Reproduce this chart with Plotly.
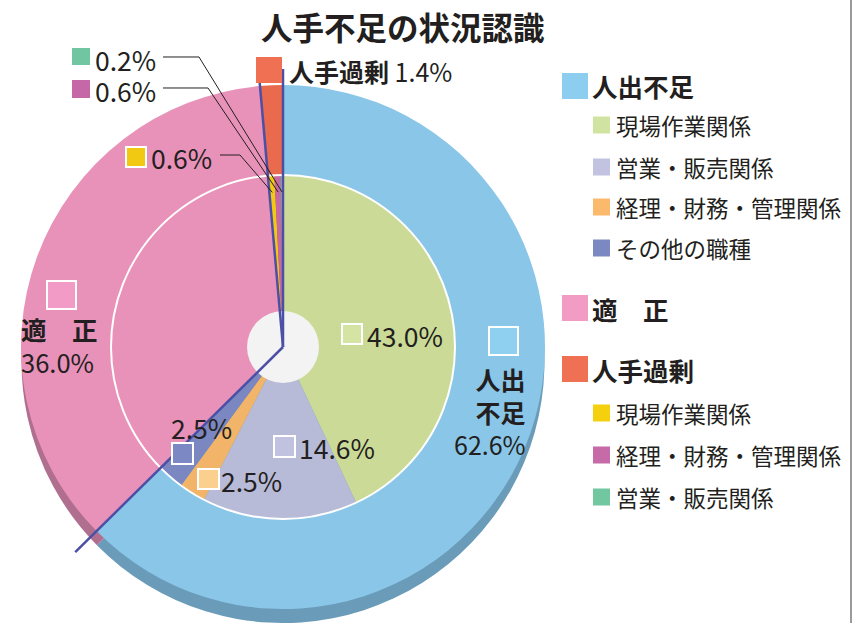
import math
import plotly.graph_objects as go

W, H = 853, 623

# ---------------- data ----------------
title_text = "人手不足の状況認識"

outer_labels = ["人出不足", "適　正", "人手過剰"]
outer_values = [62.6, 36.0, 1.4]

inner_labels = ["現場作業関係", "営業・販売関係", "経理・財務・管理関係", "その他の職種",
                "適　正", "現場作業関係", "経理・財務・管理関係", "営業・販売関係"]
inner_groups = ["人出不足", "人出不足", "人出不足", "人出不足",
                "適　正", "人手過剰", "人手過剰", "人手過剰"]
inner_values = [43.0, 14.6, 2.5, 2.5, 36.0, 0.6, 0.6, 0.2]

legend_labels = ["人出不足", "現場作業関係", "営業・販売関係", "経理・財務・管理関係", "その他の職種",
                 "適　正", "人手過剰", "現場作業関係", "経理・財務・管理関係", "営業・販売関係"]
legend_levels = [0, 1, 1, 1, 1, 0, 0, 1, 1, 1]

# ---------------- styles ----------------
outer_colors = ["#8AC6E8", "#E992B9", "#E96A4C"]
outer_side_colors = ["#6A9BB8", "#B06F8E", "#B5533D"]
inner_colors = ["#CBDB97", "#B8BBD8", "#F1B468", "#7B87C0",
                "#E992B9", "#F2C912", "#C668A8", "#6FC6A0"]
legend_colors = ["#8DCDF0", "#D1E3A0", "#C1C3E0", "#FAB96B", "#7B88C1",
                 "#F29BC5", "#F07053", "#F4D00F", "#C66BA8", "#70C7A0"]
legend_y = [86, 125, 167, 207, 248, 308, 369, 413, 455, 497]

FONT = "Noto Sans CJK JP"
TXT = "#231F20"
LINE_BLUE = "#4B50A6"

CX, CY = 283, 347
R_OUT, R_IN, R_HOLE, DEPTH = 262, 172, 36, 15


def px(x):
    return x / W


def py(y):
    return 1 - y / H


def dom(cx, cy, r):
    return dict(x=[px(cx - r), px(cx + r)], y=[max(0, py(cy + r)), py(cy - r)])


def pt(theta, r):
    t = math.radians(theta)
    return CX + r * math.sin(t), CY - r * math.cos(t)


def pct(v):
    return f"{v:.1f}%"


fig = go.Figure()

# 3D side (depth) of the ring
fig.add_trace(go.Pie(values=outer_values, labels=outer_labels, sort=False, direction="clockwise",
                     rotation=0, marker=dict(colors=outer_side_colors, line=dict(width=0)),
                     textinfo="none", hoverinfo="skip", showlegend=False,
                     domain=dom(CX, CY + DEPTH, R_OUT)))
# outer ring
fig.add_trace(go.Pie(values=outer_values, labels=outer_labels, sort=False, direction="clockwise",
                     rotation=0, hole=R_IN / R_OUT,
                     marker=dict(colors=outer_colors, line=dict(width=0)),
                     textinfo="none", hoverinfo="label+value", showlegend=False,
                     domain=dom(CX, CY, R_OUT)))
# inner pie
fig.add_trace(go.Pie(values=inner_values,
                     labels=[g + "・" + l for g, l in zip(inner_groups, inner_labels)],
                     sort=False, direction="clockwise", rotation=0,
                     marker=dict(colors=inner_colors, line=dict(width=0)),
                     textinfo="none", hoverinfo="label+value", showlegend=False,
                     domain=dom(CX, CY, R_IN)))

shapes = []
annotations = []

# white separating circle and grey centre
shapes.append(dict(type="circle", xref="paper", yref="paper",
                   x0=px(CX - R_IN), x1=px(CX + R_IN), y0=py(CY + R_IN), y1=py(CY - R_IN),
                   line=dict(color="white", width=2)))
shapes.append(dict(type="circle", xref="paper", yref="paper",
                   x0=px(CX - R_HOLE), x1=px(CX + R_HOLE), y0=py(CY + R_HOLE), y1=py(CY - R_HOLE),
                   fillcolor="#F3F3F3", line=dict(width=0)))

# emphasis lines on outer boundaries
cum = 0
bounds = [0]
for v in outer_values:
    cum += v
    bounds.append(cum)
line_specs = [(bounds[0], 278), (bounds[1], 292), (bounds[2], 279)]
for b, L in line_specs:
    ang = b / 100 * 360
    x1, y1 = pt(ang, L)
    shapes.append(dict(type="line", xref="paper", yref="paper",
                       x0=px(CX), y0=py(CY), x1=px(x1), y1=py(y1),
                       line=dict(color=LINE_BLUE, width=2.5)))

# mid angles of inner slices
inner_mid = []
c = 0
for v in inner_values:
    inner_mid.append((c + v / 2) / 100 * 360)
    c += v


def box(x0, y0, x1, y1, color, border=True):
    shapes.append(dict(type="rect", xref="paper", yref="paper",
                       x0=px(x0), x1=px(x1), y0=py(y1), y1=py(y0), fillcolor=color,
                       line=dict(color="white", width=2 if border else 0)))


def text(x, y, s, size, anchor="left", bold=False, color=TXT, align=None):
    a = dict(xref="paper", yref="paper", x=px(x), y=py(y), text=s,
             showarrow=False, xanchor=anchor, yanchor="middle", borderpad=0,
             font=dict(family=FONT, size=size, color=color,
                       weight="bold" if bold else "normal"))
    if align:
        a["align"] = align
    annotations.append(a)


# title
text(403, 26, title_text, 31.5, anchor="center", bold=True)

# outer ring labels
box(256, 57, 282, 83, "#F07053", border=False)
text(288, 71, f"<b>{outer_labels[2]}</b> {pct(outer_values[2])}", 25)

box(489, 327, 518, 355, "#8FCFF0")
text(527, 411, f"<b>人出<br>不足</b><br>{pct(outer_values[0])}", 25, anchor="right", align="right")

box(47, 281, 76, 309, "#F29BC6")
text(20, 345, f"<b>{outer_labels[1]}</b><br>{pct(outer_values[1])}", 25.5, align="left")

# inner labels
box(342, 324, 362, 344, "#D5E4A3")
text(366, 335, pct(inner_values[0]), 26.5)
box(274, 436, 295, 457, "#C0C2E0")
text(298, 447, pct(inner_values[1]), 26.5)
box(198, 469, 219, 489, "#FBD08F")
text(220, 480, pct(inner_values[2]), 26.5)
box(172, 443, 193, 464, "#7C88C4")
text(201, 427, pct(inner_values[3]), 26.5, anchor="center")

# small slices with leader lines
small = [  # (index, box, text pos, elbow)
    (7, (72, 48, 90, 65), (94, 60), [(163, 57), (199, 57)], False),
    (6, (72, 80, 90, 98), (94, 90), [(163, 88), (208, 88)], False),
    (5, (126, 147, 146, 167), (150, 157), [(220, 155), (240, 155)], True),
]
for idx, b, tp, elbow, border in small:
    box(*b, inner_colors[idx], border=border)
    text(tp[0], tp[1], pct(inner_values[idx]), 26.5)
    ex, ey = pt(inner_mid[idx], 155)
    pts = elbow + [(ex, ey)]
    path = "M " + " L ".join(f"{px(x):.5f},{py(y):.5f}" for x, y in pts)
    shapes.append(dict(type="path", xref="paper", yref="paper", path=path,
                       line=dict(color=TXT, width=1)))

# legend
for lab, lev, col, y in zip(legend_labels, legend_levels, legend_colors, legend_y):
    if lev == 0:
        box(562, y - 13, 588, y + 13, col, border=False)
        text(591, y, f"<b>{lab}</b>", 25.5)
    else:
        box(593, y - 8.5, 610, y + 8.5, col, border=False)
        text(615, y, lab, 22.5)

# right frame line
shapes.append(dict(type="line", xref="paper", yref="paper", x0=px(851), x1=px(851), y0=0, y1=1,
                   line=dict(color="#9A9A9A", width=2)))

fig.update_layout(width=W, height=H, autosize=False,
                  margin=dict(l=0, r=0, t=0, b=0),
                  paper_bgcolor="white", plot_bgcolor="white",
                  shapes=shapes, annotations=annotations, showlegend=False)

fig.write_html("out.html")
